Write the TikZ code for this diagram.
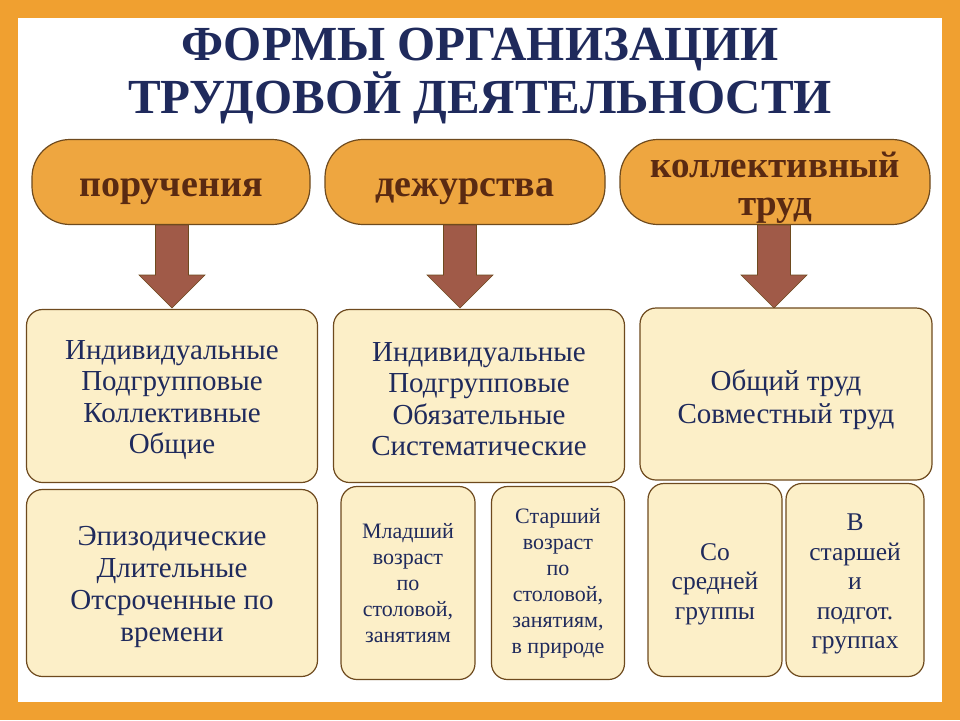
\documentclass[tikz,border=0pt]{standalone}
\usepackage{fontspec}
\setmainfont{Liberation Serif}
\definecolor{frameor}{HTML}{F0A030}
\definecolor{ovalor}{HTML}{EEA640}
\definecolor{navy}{HTML}{1F2A5C}
\definecolor{brownt}{HTML}{5A2A12}
\definecolor{arrowc}{HTML}{A05A48}
\definecolor{boxf}{HTML}{FCEFC8}
\definecolor{boxd}{HTML}{6E4A1E}
\begin{document}
\begin{tikzpicture}[x=1pt,y=-1pt,
  oval/.style={draw=boxd,line width=1.2pt,fill=ovalor,rounded corners=38pt},
  ovaltext/.style={font=\fontsize{38}{40}\selectfont\bfseries,text=brownt,align=center},
  infobox/.style={draw=boxd,line width=1.2pt,fill=boxf,rounded corners=16pt},
  btext/.style={text=navy,align=center},
  big/.style={font=\fontsize{29}{31.5}\selectfont},
  small/.style={font=\fontsize{22}{26}\selectfont},
  darrow/.style={fill=arrowc,draw=boxd,line width=0.6pt}]
\useasboundingbox (0,0) rectangle (960,720);
\fill[frameor] (0,0) rectangle (960,720);
\fill[white] (18,18) rectangle (942,702);
\node[text=navy,font=\fontsize{49}{52}\selectfont\bfseries,align=center] (title) at (480,76) {ФОРМЫ ОРГАНИЗАЦИИ\\ТРУДОВОЙ ДЕЯТЕЛЬНОСТИ};
\node[oval,minimum width=278pt,minimum height=85pt] (o1) at (171,182) {};
\node[oval,minimum width=280pt,minimum height=85pt] (o2) at (465,182) {};
\node[oval,minimum width=310pt,minimum height=85pt] (o3) at (775,182) {};
\node[ovaltext] (o1t) at ([yshift=-10pt]o1.center) {поручения};
\node[ovaltext] (o2t) at ([yshift=-10pt]o2.center) {дежурства};
\node[ovaltext,font=\fontsize{37}{38}\selectfont\bfseries] (o3t) at ([yshift=-6pt]o3.center) {коллективный\\труд};
\coordinate (a1) at (172,225);
\coordinate (a2) at (460,225);
\coordinate (a3) at (774,225);
\foreach \a in {a1,a2,a3}{
  \draw[darrow] ([xshift=-16.5pt]\a) -- ([xshift=16.5pt]\a) -- ([shift={(16.5pt,-50pt)}]\a) -- ([shift={(33pt,-50pt)}]\a) -- ([yshift=-83pt]\a) -- ([shift={(-33pt,-50pt)}]\a) -- ([shift={(-16.5pt,-50pt)}]\a) -- cycle;
}
\node[infobox,minimum width=291pt,minimum height=173pt] (b1) at (172,396) {};
\node[infobox,minimum width=291pt,minimum height=173pt] (b2) at (479,396) {};
\node[infobox,minimum width=292pt,minimum height=172pt] (b3) at (786,394) {};
\node[infobox,minimum width=291pt,minimum height=187pt] (b4) at (172,583) {};
\node[infobox,minimum width=134pt,minimum height=193pt] (b5) at (408,583) {};
\node[infobox,minimum width=133pt,minimum height=193pt] (b6) at (558,583) {};
\node[infobox,minimum width=134pt,minimum height=193pt] (b7) at (715,580) {};
\node[infobox,minimum width=138pt,minimum height=193pt] (b8) at (855,580) {};
\node[btext,big] (b1t) at ([yshift=-4pt]b1.center) {Индивидуальные\\Подгрупповые\\Коллективные\\Общие};
\node[btext,big] (b2t) at ([yshift=-3pt]b2.center) {Индивидуальные\\Подгрупповые\\Обязательные\\Систематические};
\node[btext,font=\fontsize{29}{33}\selectfont] (b3t) at ([yshift=-6pt]b3.center) {Общий труд\\Совместный труд};
\node[btext,font=\fontsize{29}{32}\selectfont] (b4t) at ([yshift=-4pt]b4.center) {Эпизодические\\Длительные\\Отсроченные по\\времени};
\node[btext,small] (b5t) at (b5.center) {Младший\\возраст\\по\\столовой,\\занятиям};
\node[btext,small] (b6t) at (b6.center) {Старший\\возраст\\по\\столовой,\\занятиям,\\в природе};
\node[btext,font=\fontsize{25.5}{29.5}\selectfont] (b7t) at ([yshift=-4pt]b7.center) {Со\\средней\\группы};
\node[btext,font=\fontsize{25.5}{29.5}\selectfont] (b8t) at ([yshift=-4pt]b8.center) {В\\старшей\\и\\подгот.\\группах};
\end{tikzpicture}
\end{document}
